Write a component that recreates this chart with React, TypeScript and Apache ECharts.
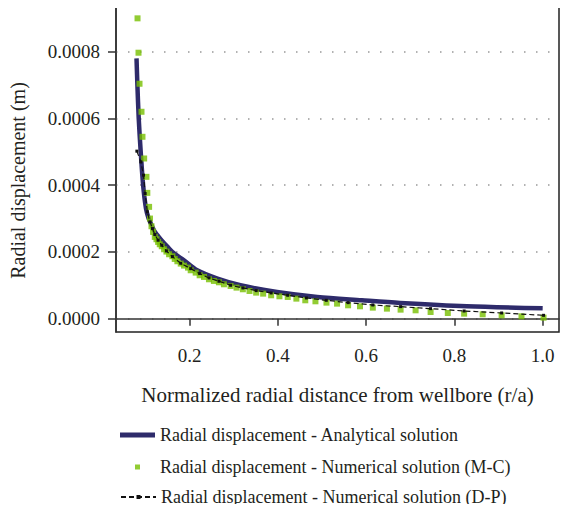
import React, { useEffect, useRef } from "react";
import * as echarts from "echarts";

// Analytical solution (x = r/a, y = displacement in m)
const analyticalX = [0.0795, 0.0815, 0.0845, 0.089, 0.0945, 0.101, 0.107, 0.112, 0.12, 0.127, 0.138, 0.15, 0.165, 0.187, 0.217, 0.263, 0.315, 0.398, 0.489, 0.59, 0.677, 0.828, 1.0];
const analyticalY = [0.00078, 0.0007, 0.0006, 0.0005, 0.0004, 0.00033, 0.0003, 0.000285, 0.000262, 0.00025, 0.000232, 0.000215, 0.000195, 0.000175, 0.000145, 0.00012, 0.0001, 0.00008, 0.000065, 0.000055, 0.000047, 0.000037, 0.000031];

// Numerical solution (M-C)
const mcX = [0.0818, 0.084, 0.0863, 0.0908, 0.093, 0.0968, 0.102, 0.104, 0.108, 0.11, 0.1134, 0.117, 0.1209, 0.1247, 0.1284, 0.1322, 0.1367, 0.142, 0.1473, 0.1533, 0.1608, 0.1661, 0.1721, 0.1797, 0.1872, 0.1962, 0.2023, 0.2136, 0.2226, 0.2324, 0.2437, 0.2549, 0.2662, 0.2776, 0.2927, 0.3062, 0.3205, 0.3356, 0.3507, 0.3665, 0.3846, 0.4034, 0.4222, 0.4418, 0.462, 0.485, 0.51, 0.534, 0.559, 0.586, 0.615, 0.647, 0.678, 0.712, 0.746, 0.785, 0.822, 0.864, 0.907, 0.952, 1.002];
const mcY = [0.0009, 0.000797, 0.000704, 0.00062, 0.000545, 0.00048, 0.000425, 0.000377, 0.000335, 0.0003, 0.000277, 0.00026, 0.000245, 0.000238, 0.00023, 0.000223, 0.000217, 0.000208, 0.000201, 0.000193, 0.000187, 0.000179, 0.000172, 0.000165, 0.000159, 0.000153, 0.000145, 0.000138, 0.00013, 0.000125, 0.000118, 0.000113, 0.000109, 0.000103, 0.000098, 0.000093, 0.000088, 0.000083, 0.000078, 0.000075, 0.00007, 0.000067, 0.000065, 0.00006, 0.000055, 0.000052, 0.000048, 0.000045, 0.00004, 0.000037, 0.000033, 0.00003, 0.000027, 0.000025, 0.00002, 0.000017, 0.000015, 0.000013, 0.00001, 0.000007, 0.000003];

// Numerical solution (D-P)
const dpX = [0.0803, 0.0893, 0.0954, 0.099, 0.104, 0.11, 0.1157, 0.1209, 0.1284, 0.1367, 0.1473, 0.1608, 0.1797, 0.2023, 0.2226, 0.2437, 0.2662, 0.2927, 0.3205, 0.3507, 0.3846, 0.4222, 0.4644, 0.5096, 0.559, 0.615, 0.678, 0.746, 0.822, 0.907, 1.002];
const dpY = [0.000502, 0.00047, 0.00043, 0.000375, 0.00032, 0.00029, 0.00027, 0.000252, 0.000235, 0.00022, 0.000203, 0.000186, 0.000166, 0.00015, 0.000135, 0.000122, 0.000112, 0.0001, 0.000092, 0.000084, 0.000077, 0.00007, 0.000062, 0.000055, 0.000048, 0.000041, 0.000036, 0.00003, 0.000023, 0.000017, 0.00001];

const xTicks = [0.2, 0.4, 0.6, 0.8, 1.0];
const yTicks = [0, 0.0002, 0.0004, 0.0006, 0.0008];

const names = [
  "Radial displacement - Analytical solution",
  "Radial displacement - Numerical solution (M-C)",
  "Radial displacement - Numerical solution (D-P)",
];

const FONT = "Liberation Serif";
const TXT = "#231f20";

export default function App() {
  const ref = useRef<HTMLDivElement>(null);
  useEffect(() => {
    if (!ref.current) return;
    const chart = echarts.init(ref.current, null, { renderer: "svg" });
    const zip = (xs: number[], ys: number[]) => xs.map((x, i) => [x, ys[i]]);
    const legendBase = {
      left: 115,
      orient: "horizontal" as const,
      itemWidth: 35,
      itemHeight: 5,
      textStyle: { fontFamily: FONT, fontSize: 18, color: TXT },
      selectedMode: false,
    };
    const tickRich = { t: { fontFamily: FONT, fontSize: 19, color: TXT } };
    chart.setOption({
      animation: false,
      backgroundColor: "#fff",
      textStyle: { fontFamily: FONT, color: TXT },
      grid: {
        left: 115,
        top: 5,
        right: 11,
        bottom: 180,
        show: true,
        borderColor: "#222",
        borderWidth: 1.5,
      },
      legend: [
        { ...legendBase, top: 421, data: [{ name: names[0], icon: "rect" }] },
        {
          ...legendBase,
          top: 453,
          symbolKeepAspect: false,
          data: [{ name: names[1], icon: "path://M0,0M15,0h5v5h-5zM35,5" }],
        },
        { ...legendBase, top: 483, data: [names[2]] },
      ],
      xAxis: {
        type: "value",
        min: 0.033,
        max: 1.037,
        name: "Normalized radial distance from wellbore (r/a)",
        nameLocation: "middle",
        nameGap: 52,
        nameTextStyle: { fontFamily: FONT, fontSize: 21, color: TXT },
        axisLine: { show: true, lineStyle: { color: "#333", width: 1.5 } },
        axisTick: { show: true, inside: false, length: 7, customValues: xTicks, lineStyle: { color: "#333", width: 1.5 } },
        axisLabel: {
          customValues: xTicks,
          margin: 14,
          fontFamily: FONT,
          fontSize: 19,
          color: TXT,
          formatter: (v: number) => "{t|" + v.toFixed(1) + "}",
          rich: tickRich,
        },
        splitLine: { show: false },
      },
      yAxis: {
        type: "value",
        min: -0.00004,
        max: 0.00094,
        name: "Radial displacement (m)",
        nameLocation: "middle",
        nameGap: 88,
        nameTextStyle: { fontFamily: FONT, fontSize: 20, color: TXT, padding: [0, 24, 0, 0] },
        axisLine: { show: true, lineStyle: { color: "#333", width: 1.5 } },
        axisTick: { show: true, inside: false, length: 8, customValues: yTicks, lineStyle: { color: "#333", width: 1.5 } },
        axisLabel: {
          customValues: yTicks,
          margin: 16,
          fontFamily: FONT,
          fontSize: 19,
          color: TXT,
          formatter: (v: number) => "{t|" + v.toFixed(4) + "}",
          rich: tickRich,
        },
        splitLine: { show: true, lineStyle: { color: "#999", type: [1.5, 10.5], width: 1.5 } },
      },
      series: [
        {
          name: names[0],
          type: "line",
          data: zip(analyticalX, analyticalY),
          symbol: "none",
          smooth: 0.3,
          lineStyle: { color: "#2e2b6b", width: 4.5 },
          itemStyle: { color: "#2e2b6b" },
          z: 2,
        },
        {
          name: names[1],
          type: "scatter",
          data: zip(mcX, mcY),
          symbol: "rect",
          symbolSize: 6,
          itemStyle: { color: "#77bf00" },
          z: 3,
        },
        {
          name: names[2],
          type: "line",
          data: zip(dpX, dpY),
          symbol: "rect",
          symbolSize: 3,
          showSymbol: true,
          lineStyle: { color: "#111", width: 1.2, type: [5, 3] },
          itemStyle: { color: "#111" },
          z: 4,
        },
      ],
    });
    return () => chart.dispose();
  }, []);
  return <div ref={ref} style={{ width: 570, height: 512, margin: -8 }} />;
}
